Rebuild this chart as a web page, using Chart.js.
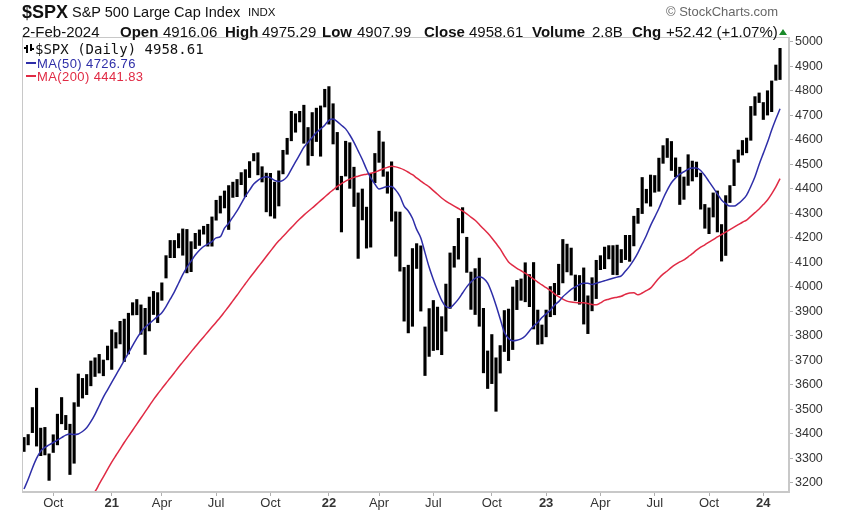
<!DOCTYPE html>
<html>
<head>
<meta charset="utf-8">
<script src="https://cdn.jsdelivr.net/npm/chart.js@4/dist/chart.umd.min.js"></script>
<style>
  body { margin: 0; background: #fff; }
  #wrap { position: relative; width: 848px; height: 513px; overflow: hidden; font-family: "Liberation Sans", Arial, sans-serif; color: #111; }
  #c { position: absolute; left: 0; top: 0; }
  .t { position: absolute; white-space: nowrap; line-height: 1; }
  .b { font-weight: bold; }
  .h2 { top: 24px; font-size: 15px; }
  .lg { position: absolute; white-space: nowrap; line-height: 1; }
  .dash { position: absolute; height: 2px; width: 10px; }
</style>
</head>
<body>
<div id="wrap">
  <canvas id="c" width="848" height="513"></canvas>

  <!-- header -->
  <div class="t b" style="left:22px;top:3px;font-size:18px;">$SPX</div>
  <div class="t" style="left:72px;top:5px;font-size:14.5px;">S&amp;P 500 Large Cap Index</div>
  <div class="t" style="left:248px;top:7px;font-size:11.5px;">INDX</div>
  <div class="t" style="left:666px;top:5px;font-size:13px;color:#666;">&copy; StockCharts.com</div>

  <div class="t h2" style="left:22px;">2-Feb-2024</div>
  <div class="t h2 b" style="left:120px;">Open</div>
  <div class="t h2" style="left:163px;">4916.06</div>
  <div class="t h2 b" style="left:225px;">High</div>
  <div class="t h2" style="left:262px;">4975.29</div>
  <div class="t h2 b" style="left:322px;">Low</div>
  <div class="t h2" style="left:357px;">4907.99</div>
  <div class="t h2 b" style="left:424px;">Close</div>
  <div class="t h2" style="left:469px;">4958.61</div>
  <div class="t h2 b" style="left:532px;">Volume</div>
  <div class="t h2" style="left:592px;">2.8B</div>
  <div class="t h2 b" style="left:632px;">Chg</div>
  <div class="t h2" style="left:666px;">+52.42 (+1.07%)</div>
  <div style="position:absolute;left:779px;top:29px;width:0;height:0;border-left:4px solid transparent;border-right:4px solid transparent;border-bottom:6px solid #1a8a2a;"></div>

  <!-- legend inside plot -->
  <div style="position:absolute;left:26px;top:45px;width:2px;height:8px;background:#000;"></div>
  <div style="position:absolute;left:30px;top:44px;width:2px;height:7px;background:#000;"></div>
  <div style="position:absolute;left:24px;top:47px;width:2px;height:2px;background:#000;"></div>
  <div style="position:absolute;left:32px;top:48px;width:2px;height:2px;background:#000;"></div>
  <div class="lg" style="left:35px;top:42px;font-family:'DejaVu Sans Mono',monospace;font-size:14px;color:#111;">$SPX (Daily) 4958.61</div>
  <div class="dash" style="left:26px;top:62px;background:#2e2ea8;"></div>
  <div class="lg" style="left:37px;top:57px;font-size:13px;letter-spacing:0.4px;color:#2e2ea8;">MA(50) 4726.76</div>
  <div class="dash" style="left:26px;top:75px;background:#e02a44;"></div>
  <div class="lg" style="left:37px;top:70px;font-size:13px;letter-spacing:0.4px;color:#e02a44;">MA(200) 4441.83</div>
</div>

<script>
// week-ending dates (last trading day of each week)
const weekEnds = [
  '2020-08-14','2020-08-21','2020-08-28','2020-09-04','2020-09-11','2020-09-18','2020-09-25','2020-10-02','2020-10-09','2020-10-16',
  '2020-10-23','2020-10-30','2020-11-06','2020-11-13','2020-11-20','2020-11-27','2020-12-04','2020-12-11','2020-12-18','2020-12-24',
  '2020-12-31',
  '2021-01-08','2021-01-15','2021-01-22','2021-01-29','2021-02-05','2021-02-12','2021-02-19','2021-02-26','2021-03-05','2021-03-12',
  '2021-03-19','2021-03-26','2021-04-01','2021-04-09','2021-04-16','2021-04-23','2021-04-30','2021-05-07','2021-05-14','2021-05-21',
  '2021-05-28','2021-06-04','2021-06-11','2021-06-18','2021-06-25','2021-07-02','2021-07-09','2021-07-16','2021-07-23','2021-07-30',
  '2021-08-06','2021-08-13','2021-08-20','2021-08-27','2021-09-03','2021-09-10','2021-09-17','2021-09-24','2021-10-01','2021-10-08',
  '2021-10-15','2021-10-22','2021-10-29','2021-11-05','2021-11-12','2021-11-19','2021-11-26','2021-12-03','2021-12-10','2021-12-17',
  '2021-12-23','2021-12-31',
  '2022-01-07','2022-01-14','2022-01-21','2022-01-28','2022-02-04','2022-02-11','2022-02-18','2022-02-25','2022-03-04','2022-03-11',
  '2022-03-18','2022-03-25','2022-04-01','2022-04-08','2022-04-14','2022-04-22','2022-04-29','2022-05-06','2022-05-13','2022-05-20',
  '2022-05-27','2022-06-03','2022-06-10','2022-06-17','2022-06-24','2022-07-01','2022-07-08','2022-07-15','2022-07-22','2022-07-29',
  '2022-08-05','2022-08-12','2022-08-19','2022-08-26','2022-09-02','2022-09-09','2022-09-16','2022-09-23','2022-09-30','2022-10-07',
  '2022-10-14','2022-10-21','2022-10-28','2022-11-04','2022-11-11','2022-11-18','2022-11-25','2022-12-02','2022-12-09','2022-12-16',
  '2022-12-23','2022-12-30',
  '2023-01-06','2023-01-13','2023-01-20','2023-01-27','2023-02-03','2023-02-10','2023-02-17','2023-02-24','2023-03-03','2023-03-10',
  '2023-03-17','2023-03-24','2023-03-31','2023-04-06','2023-04-14','2023-04-21','2023-04-28','2023-05-05','2023-05-12','2023-05-19',
  '2023-05-26','2023-06-02','2023-06-09','2023-06-16','2023-06-23','2023-06-30','2023-07-07','2023-07-14','2023-07-21','2023-07-28',
  '2023-08-04','2023-08-11','2023-08-18','2023-08-25','2023-09-01','2023-09-08','2023-09-15','2023-09-22','2023-09-29','2023-10-06',
  '2023-10-13','2023-10-20','2023-10-27','2023-11-03','2023-11-10','2023-11-17','2023-11-24','2023-12-01','2023-12-08','2023-12-15',
  '2023-12-22','2023-12-29',
  '2024-01-05','2024-01-12','2024-01-19','2024-01-26','2024-02-02'
];

// weekly high / low of $SPX
const weekHigh = [
  3387, 3399, 3509, 3588, 3425, 3428, 3320, 3398, 3482, 3550, 3477, 3441, 3529, 3646, 3628, 3644, 3699, 3712, 3726, 3703, 3760,
  3826, 3815, 3861, 3870, 3894, 3937, 3950, 3928, 3914, 3960, 3983, 3978, 4018, 4129, 4191, 4191, 4219, 4238, 4236, 4186,
  4220, 4234, 4249, 4257, 4287, 4355, 4372, 4393, 4415, 4429, 4440, 4468, 4480, 4513, 4546, 4549, 4492, 4466, 4465, 4429,
  4475, 4559, 4608, 4718, 4708, 4718, 4743, 4652, 4713, 4731, 4740, 4808,
  4819, 4749, 4632, 4453, 4596, 4590, 4490, 4385, 4401, 4327, 4465, 4546, 4637, 4593, 4471, 4512, 4308, 4307, 4081, 4090,
  4158, 4178, 4169, 3838, 3913, 3946, 3919, 3880, 4013, 4140, 4167, 4281, 4325, 4204, 4062, 4076, 4119, 3914, 3740, 3807,
  3712, 3762, 3905, 3911, 4001, 4028, 4034, 4100, 4052, 4101, 3907, 3846,
  3907, 4003, 4016, 4094, 4195, 4176, 4160, 4050, 4048, 4079, 3965, 4039, 4110, 4129, 4164, 4170, 4170, 4172, 4154, 4212,
  4212, 4290, 4322, 4448, 4400, 4458, 4456, 4527, 4578, 4607, 4595, 4528, 4490, 4450, 4541, 4515, 4511, 4466, 4338, 4324,
  4385, 4393, 4256, 4374, 4415, 4521, 4560, 4599, 4609, 4738, 4778, 4793,
  4754, 4802, 4842, 4907, 4975
];
const weekLow = [
  3327, 3354, 3404, 3349, 3310, 3313, 3209, 3323, 3354, 3440, 3416, 3233, 3279, 3511, 3545, 3559, 3595, 3633, 3647, 3636, 3701,
  3662, 3749, 3766, 3694, 3725, 3884, 3885, 3805, 3723, 3819, 3886, 3853, 3944, 4035, 4118, 4118, 4158, 4128, 4056, 4061,
  4155, 4168, 4214, 4165, 4165, 4271, 4300, 4321, 4233, 4364, 4367, 4416, 4367, 4445, 4513, 4456, 4427, 4305, 4288, 4279,
  4329, 4460, 4540, 4595, 4630, 4672, 4585, 4495, 4534, 4592, 4532, 4733,
  4663, 4582, 4395, 4223, 4451, 4401, 4327, 4115, 4272, 4157, 4161, 4424, 4507, 4450, 4381, 4267, 4124, 4063, 3859, 3811,
  3838, 4074, 3900, 3637, 3715, 3739, 3742, 3722, 3818, 3911, 4079, 4112, 4219, 4058, 3907, 3886, 3838, 3648, 3584, 3604,
  3491, 3647, 3735, 3698, 3743, 3906, 3944, 3938, 3918, 3827, 3764, 3766,
  3795, 3877, 3885, 3967, 4015, 4060, 4047, 3943, 3928, 3847, 3808, 3901, 3951, 4069, 4073, 4113, 4049, 4048, 4098, 4110,
  4103, 4166, 4258, 4298, 4341, 4328, 4385, 4389, 4503, 4527, 4474, 4448, 4335, 4356, 4413, 4431, 4448, 4316, 4238, 4216,
  4284, 4223, 4104, 4127, 4343, 4412, 4507, 4537, 4546, 4597, 4699, 4751,
  4682, 4700, 4714, 4842, 4845
];

// 50-day moving average, read once per week
const ma50 = [
  3175, 3215, 3260, 3300, 3330, 3345, 3355, 3365, 3375, 3385, 3395, 3400, 3398, 3400, 3410, 3425, 3450, 3480, 3515, 3550, 3580,
  3610, 3640, 3670, 3700, 3730, 3760, 3790, 3815, 3835, 3850, 3865, 3880, 3895, 3920, 3950, 3980, 4015, 4050, 4080, 4105,
  4130, 4150, 4165, 4175, 4185, 4200, 4205, 4240, 4260, 4285, 4310, 4340, 4370, 4395, 4420, 4435, 4445, 4450, 4445, 4435,
  4430, 4435, 4450, 4480, 4510, 4540, 4570, 4590, 4610, 4630, 4645, 4660,
  4680, 4685, 4675, 4660, 4645, 4620, 4590, 4555, 4520, 4480, 4445, 4420, 4400, 4405, 4410, 4410, 4395, 4370, 4330, 4310,
  4280, 4235, 4200, 4140, 4080, 4030, 3985, 3945, 3920, 3915, 3930, 3950, 3975, 4000, 4020, 4035, 4040, 4035, 4015, 3975,
  3925, 3870, 3815, 3790, 3780, 3782, 3788, 3800, 3820, 3840, 3855, 3875,
  3890, 3905, 3925, 3940, 3960, 3975, 3990, 4000, 4010, 4015, 4015, 4010, 4015, 4020, 4025, 4030, 4035, 4040, 4045, 4065,
  4085, 4110, 4140, 4175, 4210, 4250, 4285, 4320, 4360, 4395, 4425, 4445, 4460, 4470, 4480, 4485, 4485, 4475, 4455, 4430,
  4405, 4380, 4355, 4340, 4330, 4330, 4340, 4355, 4375, 4410, 4450, 4500,
  4545, 4590, 4640, 4685, 4727
];

// 200-day moving average, read once per week (early weeks sit below the axis)
const ma200 = [
  3040, 3045, 3050, 3055, 3060, 3065, 3070, 3075, 3085, 3095, 3105, 3110, 3115, 3125, 3135, 3145, 3155, 3165, 3195, 3225, 3255,
  3285, 3312, 3338, 3365, 3390, 3415, 3440, 3465, 3490, 3515, 3540, 3563, 3585, 3607, 3628, 3650, 3672, 3693, 3714, 3735,
  3756, 3776, 3796, 3816, 3836, 3856, 3876, 3898, 3920, 3943, 3966, 3990, 4013, 4036, 4058, 4080, 4102, 4124, 4146, 4168,
  4188, 4206, 4224, 4242, 4260, 4277, 4293, 4308, 4322, 4337, 4352, 4367,
  4382, 4396, 4410, 4422, 4432, 4440, 4447, 4452, 4457, 4460, 4464, 4468, 4475, 4482, 4488, 4492, 4490, 4485, 4478, 4468,
  4458, 4445, 4432, 4420, 4408, 4393, 4378, 4363, 4350, 4340, 4330, 4320, 4310, 4298, 4285, 4272, 4255, 4237, 4220, 4200,
  4178, 4155, 4127, 4102, 4088, 4076, 4066, 4056, 4044, 4032, 4020, 4008,
  3997, 3986, 3972, 3960, 3950, 3942, 3938, 3936, 3935, 3935, 3932, 3928, 3927, 3935, 3945, 3950, 3955, 3958, 3962, 3970,
  3975, 3976, 3968, 3975, 3985, 3995, 4015, 4035, 4052, 4065, 4080, 4092, 4102, 4110, 4123, 4136, 4150, 4162, 4172, 4183,
  4193, 4204, 4214, 4224, 4234, 4244, 4254, 4264, 4273, 4288, 4303, 4318,
  4336, 4355, 4380, 4408, 4442
];

const yTicks = [3200, 3300, 3400, 3500, 3600, 3700, 3800, 3900, 4000, 4100, 4200, 4300, 4400, 4500, 4600, 4700, 4800, 4900, 5000];
const xTickLabels = ['Oct', '21', 'Apr', 'Jul', 'Oct', '22', 'Apr', 'Jul', 'Oct', '23', 'Apr', 'Jul', 'Oct', '24'];

// week index where a quarter month starts
const xTickWeeks = [];
weekEnds.forEach((d, i) => {
  if (i === 0) return;
  const m = +d.slice(5, 7);
  const pm = +weekEnds[i - 1].slice(5, 7);
  if (m !== pm && (m - 1) % 3 === 0) xTickWeeks.push(i);
});

const FONT = "'Liberation Sans', Arial, sans-serif";

// thin grey frame round the plot
const frame = {
  id: 'frame',
  afterDraw(chart) {
    const a = chart.chartArea;
    const c = chart.ctx;
    c.save();
    c.strokeStyle = '#c8c8c8';
    c.lineWidth = 1;
    c.strokeRect(a.left + 0.5, a.top + 0.5, a.right - a.left - 1, a.bottom - a.top - 1);
    c.restore();
  }
};

new Chart(document.getElementById('c'), {
  type: 'bar',
  data: {
    datasets: [
      {
        type: 'line',
        data: ma50.map((v, i) => ({ x: i, y: v })),
        borderColor: '#2e2ea8',
        borderWidth: 1.5,
        pointRadius: 0,
        cubicInterpolationMode: 'monotone',
        order: 1
      },
      {
        type: 'line',
        data: ma200.map((v, i) => ({ x: i, y: v })),
        borderColor: '#e02a44',
        borderWidth: 1.5,
        pointRadius: 0,
        cubicInterpolationMode: 'monotone',
        order: 2
      },
      {
        type: 'bar',
        data: weekEnds.map((d, i) => ({ x: i, y: [weekLow[i], weekHigh[i]] })),
        backgroundColor: '#000',
        borderWidth: 0,
        barPercentage: 0.75,
        categoryPercentage: 1,
        order: 3
      }
    ]
  },
  options: {
    responsive: false,
    animation: false,
    layout: { padding: { left: 22, top: 37, right: 0, bottom: 0 } },
    plugins: { legend: { display: false }, tooltip: { enabled: false } },
    scales: {
      x: {
        type: 'linear',
        offset: false,
        min: -0.48,
        max: 183.15,
        afterBuildTicks: s => { s.ticks = xTickWeeks.map(v => ({ value: v })); },
        afterFit: s => { s.height = 21; },
        grid: { offset: false, drawOnChartArea: false, drawTicks: true, tickLength: 4, color: '#b0b0b0' },
        border: { color: '#c8c8c8' },
        ticks: {
          autoSkip: false,
          maxRotation: 0,
          padding: 0,
          color: '#333',
          callback: v => {
            const k = xTickWeeks.indexOf(v);
            return k >= 0 ? xTickLabels[k] : '';
          },
          font: c => {
            const k = xTickWeeks.indexOf(c.tick ? c.tick.value : -1);
            const isYear = k >= 0 && /^\d+$/.test(xTickLabels[k]);
            return { family: FONT, size: 13, weight: isYear ? 'bold' : 'normal' };
          }
        }
      },
      y: {
        position: 'right',
        min: 3163,
        max: 5020,
        afterBuildTicks: s => { s.ticks = yTicks.map(v => ({ value: v })); },
        afterFit: s => { s.width = 59; },
        grid: { drawOnChartArea: false, drawTicks: true, tickLength: 4, color: '#b0b0b0' },
        border: { color: '#c8c8c8' },
        ticks: {
          padding: 2,
          color: '#333',
          font: { family: FONT, size: 12.5 },
          callback: v => String(v)
        }
      }
    }
  },
  plugins: [frame]
});
</script>
</body>
</html>
